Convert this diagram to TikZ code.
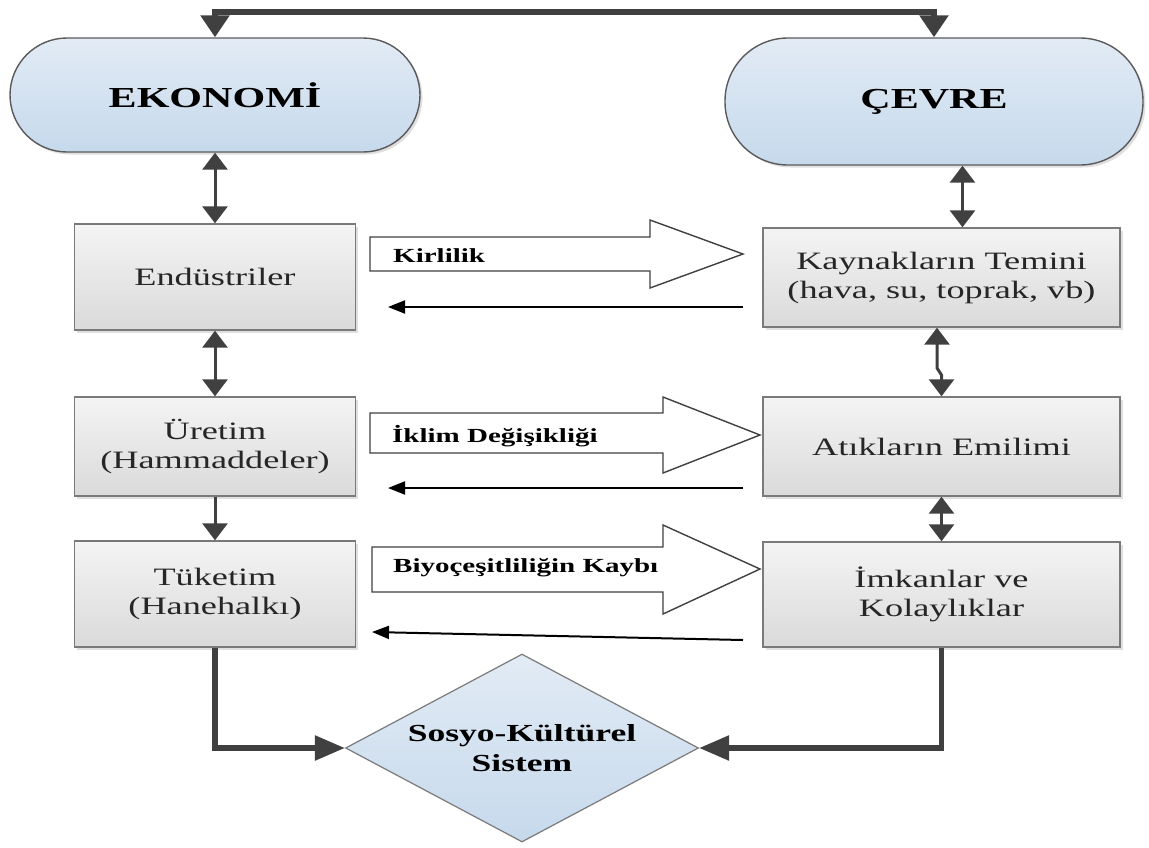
\documentclass[tikz,border=0pt]{standalone}
\usepackage{fontspec}
\setmainfont{Liberation Serif}[FakeStretch=1.45]
\usetikzlibrary{arrows.meta,shapes.geometric,shadows}
\definecolor{linec}{HTML}{404040}
\definecolor{boxtop}{HTML}{F4F4F4}
\definecolor{boxbot}{HTML}{DADADA}
\definecolor{boxline}{HTML}{7A7A7A}
\definecolor{bluetop}{HTML}{E2EBF5}
\definecolor{bluebot}{HTML}{C6D9EC}
\definecolor{blueline}{HTML}{5A5A5A}
\definecolor{txt}{HTML}{262626}
\begin{document}
\begin{tikzpicture}[x=1pt,y=-1pt,
  box/.style={draw=boxline, line width=1.4pt, top color=boxtop, bottom color=boxbot,
    minimum width=281pt, inner sep=0pt, align=center, text=txt,
    font=\fontsize{25}{29}\selectfont,
    drop shadow={shadow xshift=2.5pt, shadow yshift=-2.5pt, opacity=0.25}},
  rbox/.style={box, minimum width=357pt},
  stad/.style={draw=blueline, line width=1.4pt, top color=bluetop, bottom color=bluebot,
    inner sep=0pt, font=\fontsize{29}{33}\selectfont\bfseries,
    drop shadow={shadow xshift=2.5pt, shadow yshift=-2.5pt, opacity=0.25}},
  dia/.style={diamond, aspect=1.88, draw=boxline, line width=1.2pt, top color=bluetop,
    bottom color=bluebot, inner sep=0pt, minimum width=353pt, minimum height=188pt,
    align=center, font=\fontsize{24.5}{30}\selectfont\bfseries},
  dbl/.style={draw=linec, line width=3pt,
    {Triangle[length=17pt,width=25pt]}-{Triangle[length=17pt,width=25pt]}},
  sgl/.style={draw=linec, line width=3pt, -{Triangle[length=17pt,width=25pt]}},
  topc/.style={draw=linec, line width=5.5pt,
    {Triangle[length=22pt,width=28pt]}-{Triangle[length=22pt,width=28pt]}},
  thickc/.style={draw=linec, line width=5.5pt, -{Triangle[length=30pt,width=24pt]}},
  ret/.style={draw=black, line width=2pt, -{Triangle[length=17pt,width=13pt]}},
  blk/.style={draw=linec, line width=1.4pt, fill=white, line join=miter},
  lbl/.style={inner sep=0pt, font=\fontsize{20}{24}\selectfont\bfseries, anchor=base west}
]
\useasboundingbox (0,0) rectangle (1149,847);

% top-level nodes
\node[stad, rounded corners=57pt, minimum width=410pt, minimum height=114pt] (eko) at (215,95) {EKONOMİ};
\node[stad, rounded corners=63pt, minimum width=418pt, minimum height=127pt] (cev) at (934,101.5) {ÇEVRE};

% left column
\node[box, minimum height=106pt] (end) at (215,277) {Endüstriler};
\node[box, minimum height=99pt] (ure) at (215,446.5) {Üretim\\(Hammaddeler)};
\node[box, minimum height=106pt] (tuk) at (215,594) {Tüketim\\(Hanehalkı)};

% right column
\node[rbox, minimum height=99pt] (kay) at (941.5,277.5) {Kaynakların Temini\\(hava, su, toprak, vb)};
\node[rbox, minimum height=99pt] (ati) at (941.5,446.5) {Atıkların Emilimi};
\node[rbox, minimum height=105pt] (imk) at (941.5,594.5) {İmkanlar ve\\Kolaylıklar};

% diamond
\node[dia] (sks) at (522,748) {Sosyo-Kültürel\\Sistem};

% top connector
\draw[topc] (eko.north) -- (eko.north |- 0,12) -- (cev.north |- 0,12) -- (cev.north);

% left vertical arrows
\draw[dbl] (eko.south) -- (end.north);
\draw[dbl] (end.south) -- (ure.north);
\draw[sgl] (ure.south) -- (tuk.north);

% right vertical arrows
\draw[dbl] ([xshift=21pt]kay.north) -- ([xshift=21pt]kay.north |- cev.south);
\draw[dbl] ([xshift=-4.5pt]kay.south) -- ([xshift=-4.5pt]kay.south |- 0,368)
  -- (ati.north |- 0,375) -- (ati.north);
\draw[dbl] (ati.south) -- (imk.north);

% bottom connectors
\draw[thickc] (tuk.south) |- (sks.west);
\draw[thickc] (imk.south) |- (sks.east);

% block arrows
\draw[blk] (370,237) -- (650,237) -- (650,220) -- (743,254) -- (650,288) -- (650,271) -- (370,271) -- cycle;
\node[lbl] (lk) at (393,262) {Kirlilik};
\draw[blk] (370,413) -- (663,413) -- (663,397) -- (760,435) -- (663,473) -- (663,453) -- (370,453) -- cycle;
\node[lbl] (li) at (392,442) {İklim Değişikliği};
\draw[blk] (372,547) -- (663,547) -- (663,525) -- (760,569) -- (663,614) -- (663,592) -- (372,592) -- cycle;
\node[lbl] (lb) at (393,572) {Biyoçeşitliliğin Kaybı};

% return arrows
\coordinate (r1s) at (743,307);
\coordinate (r1e) at (388,307);
\coordinate (r2s) at (743,488);
\coordinate (r2e) at (388,488);
\coordinate (r3s) at (743,640);
\coordinate (r3e) at (372,632);
\draw[ret] (r1s) -- (r1e);
\draw[ret] (r2s) -- (r2e);
\draw[ret] (r3s) -- (r3e);
\end{tikzpicture}
\end{document}
